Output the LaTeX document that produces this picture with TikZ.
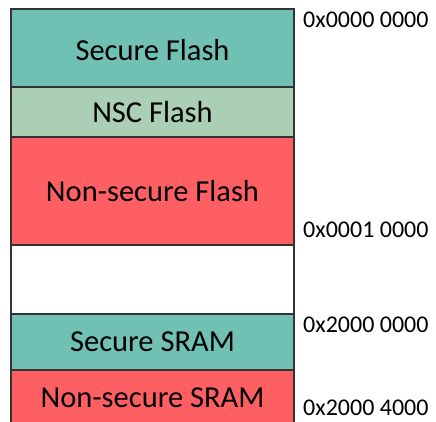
\documentclass[tikz,border=0pt]{standalone}
\usepackage{fontspec}
\setmainfont{Carlito}
\definecolor{secteal}{HTML}{70C1B3}
\definecolor{nscgreen}{HTML}{AACFB4}
\definecolor{nsred}{HTML}{FE5F62}
\definecolor{edge}{HTML}{333333}
\tikzset{
  region/.style={draw=edge, line width=1.3bp, minimum width=283bp, inner sep=0pt, outer sep=0pt,
    font=\fontsize{30.5bp}{34bp}\selectfont, text=black},
  addr/.style={anchor=west, inner sep=0pt, font=\fontsize{24bp}{26bp}\selectfont, text=black}
}
\begin{document}
\begin{tikzpicture}[x=1bp, y=-1bp]
\useasboundingbox (0,0) rectangle (436,421);
% memory regions, top to bottom; the last one runs past the lower edge
\begin{scope}
\clip (0,0) rectangle (436,421);
\node[region, fill=secteal, minimum height=78bp] (sf) at (152.5,48) {};
\node[font=\fontsize{30.5bp}{34bp}\selectfont] (sflabel) at (152.5,50) {Secure Flash};
\node[region, fill=nscgreen, minimum height=50bp] (nsc) at (152.5,112) {NSC Flash};
\node[region, fill=nsred, minimum height=108bp] (nsf) at (152.5,191) {Non-secure Flash};
\node[region, fill=white, minimum height=69bp] (gap) at (152.5,279.5) {};
\node[region, fill=secteal, minimum height=56bp] (ss) at (152.5,342) {Secure SRAM};
\node[region, fill=nsred, minimum height=62bp] (nss) at (152.5,401) {};
\end{scope}
\node[font=\fontsize{30.5bp}{34bp}\selectfont] (nsslabel) at (152.5,397.5) {Non-secure SRAM};
% addresses
\node[addr] (a0) at (303,20) {0x0000 0000};
\node[addr] (a1) at (303,230) {0x0001 0000};
\node[addr] (a2) at (303,325) {0x2000 0000};
\node[addr] (a3) at (303,407.5) {0x2000 4000};
\end{tikzpicture}
\end{document}
